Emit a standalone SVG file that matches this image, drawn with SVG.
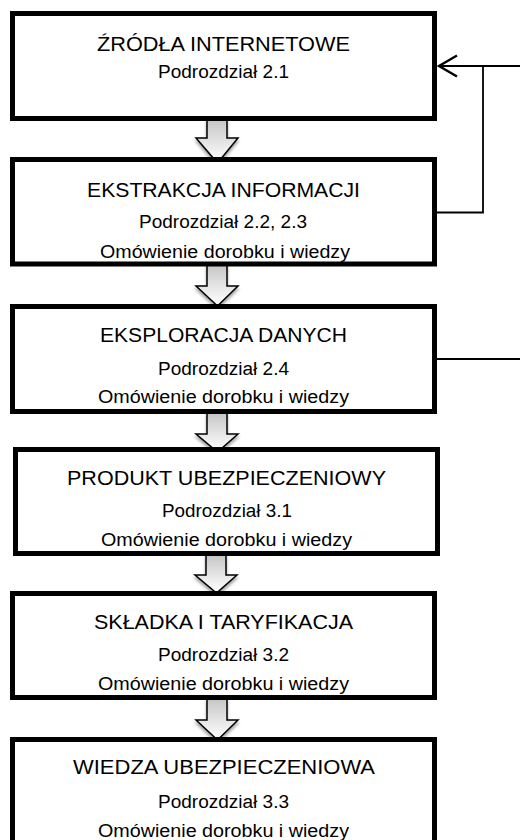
<svg xmlns="http://www.w3.org/2000/svg" width="520" height="840" viewBox="0 0 520 840">
  <defs>
    <linearGradient id="arrowFill" x1="0" y1="0" x2="0" y2="1">
      <stop offset="0" stop-color="#c4c4c4"/>
      <stop offset="0.55" stop-color="#e6e6e6"/>
      <stop offset="1" stop-color="#ffffff"/>
    </linearGradient>
    <filter id="shadow" x="-30%" y="-30%" width="160%" height="160%">
      <feGaussianBlur in="SourceAlpha" stdDeviation="1.5"/>
      <feOffset dx="0" dy="2.5" result="b"/>
      <feComponentTransfer><feFuncA type="linear" slope="0.35"/></feComponentTransfer>
      <feMerge><feMergeNode/><feMergeNode in="SourceGraphic"/></feMerge>
    </filter>
    <marker id="openArrow" markerUnits="userSpaceOnUse" markerWidth="24" markerHeight="26" refX="20" refY="12" orient="auto" viewBox="0 0 24 26">
      <path d="M2,1.5 L20,12 L2,22.5" fill="none" stroke="#000" stroke-width="2.4"/>
    </marker>
  </defs>
  <style>
    .box { fill: #ffffff; stroke: #000000; stroke-width: 5; }
    .title { font-family: "Liberation Sans", Arial, sans-serif; font-size: 20px; fill: #000; text-anchor: middle; }
    .sub { font-family: "Liberation Sans", Arial, sans-serif; font-size: 18px; fill: #000; text-anchor: middle; }
    .blk { fill: url(#arrowFill); stroke: #000; stroke-width: 1.5; stroke-linejoin: miter; filter: url(#shadow); }
    .conn { fill: none; stroke: #000; stroke-width: 1.8; }
  </style>
  <rect width="520" height="840" fill="#ffffff"/>

  <g id="flow-arrows">
    <polygon class="blk" points="207,119 227,119 227,138 238,138 217.5,163 196,138 207,138"/>
    <polygon class="blk" points="207,264 227,264 227,286 238,286 217.5,306 196,286 207,286"/>
    <polygon class="blk" points="207,412 227,412 227,434 238,434 217.5,452 196,434 207,434"/>
    <polygon class="blk" points="206,554 226,554 226,575 237,575 216.5,593 195,575 206,575"/>
    <polygon class="blk" points="207,698 227,698 227,720 238,720 217.5,740 196,720 207,720"/>
  </g>

  <g id="node-zrodla">
    <rect class="box" x="12.5" y="13.5" width="422" height="105"/>
    <text class="title" x="223.5" y="51" textLength="253" lengthAdjust="spacingAndGlyphs">ŹRÓDŁA INTERNETOWE</text>
    <text class="sub" x="223.5" y="78" textLength="131" lengthAdjust="spacingAndGlyphs">Podrozdział 2.1</text>
  </g>

  <g id="node-ekstrakcja">
    <rect class="box" x="12.5" y="159.5" width="422" height="104.5"/>
    <text class="title" x="223.5" y="197" textLength="273" lengthAdjust="spacingAndGlyphs">EKSTRAKCJA INFORMACJI</text>
    <text class="sub" x="223" y="228" textLength="168" lengthAdjust="spacingAndGlyphs">Podrozdział 2.2, 2.3</text>
    <text class="sub" x="225" y="258" textLength="250" lengthAdjust="spacingAndGlyphs">Omówienie dorobku i wiedzy</text>
  </g>

  <g id="node-eksploracja">
    <rect class="box" x="12.5" y="306.5" width="422" height="105"/>
    <text class="title" x="223.5" y="342" textLength="247" lengthAdjust="spacingAndGlyphs">EKSPLORACJA DANYCH</text>
    <text class="sub" x="223.5" y="375" textLength="131" lengthAdjust="spacingAndGlyphs">Podrozdział 2.4</text>
    <text class="sub" x="223.5" y="403" textLength="251" lengthAdjust="spacingAndGlyphs">Omówienie dorobku i wiedzy</text>
  </g>

  <g id="node-produkt">
    <rect class="box" x="15.5" y="449.5" width="422" height="104"/>
    <text class="title" x="226.5" y="485" textLength="319" lengthAdjust="spacingAndGlyphs">PRODUKT UBEZPIECZENIOWY</text>
    <text class="sub" x="227" y="517" textLength="130" lengthAdjust="spacingAndGlyphs">Podrozdział 3.1</text>
    <text class="sub" x="226.5" y="546" textLength="251" lengthAdjust="spacingAndGlyphs">Omówienie dorobku i wiedzy</text>
  </g>

  <g id="node-skladka">
    <rect class="box" x="12.5" y="593.5" width="422" height="104"/>
    <text class="title" x="223.5" y="629" textLength="259" lengthAdjust="spacingAndGlyphs">SKŁADKA I TARYFIKACJA</text>
    <text class="sub" x="223.5" y="661" textLength="131" lengthAdjust="spacingAndGlyphs">Podrozdział 3.2</text>
    <text class="sub" x="223.5" y="690" textLength="251" lengthAdjust="spacingAndGlyphs">Omówienie dorobku i wiedzy</text>
  </g>

  <g id="node-wiedza">
    <rect class="box" x="12.5" y="739.5" width="422" height="120"/>
    <text class="title" x="224" y="774" textLength="302" lengthAdjust="spacingAndGlyphs">WIEDZA UBEZPIECZENIOWA</text>
    <text class="sub" x="223.5" y="808" textLength="131" lengthAdjust="spacingAndGlyphs">Podrozdział 3.3</text>
    <text class="sub" x="223.5" y="837" textLength="251" lengthAdjust="spacingAndGlyphs">Omówienie dorobku i wiedzy</text>
  </g>

  <g id="connectors">
    <path class="conn" d="M437,212.5 H483 V66 H439" marker-end="url(#openArrow)"/>
    <path class="conn" d="M483,66 H520"/>
    <path class="conn" d="M437,359 H520"/>
  </g>
</svg>
